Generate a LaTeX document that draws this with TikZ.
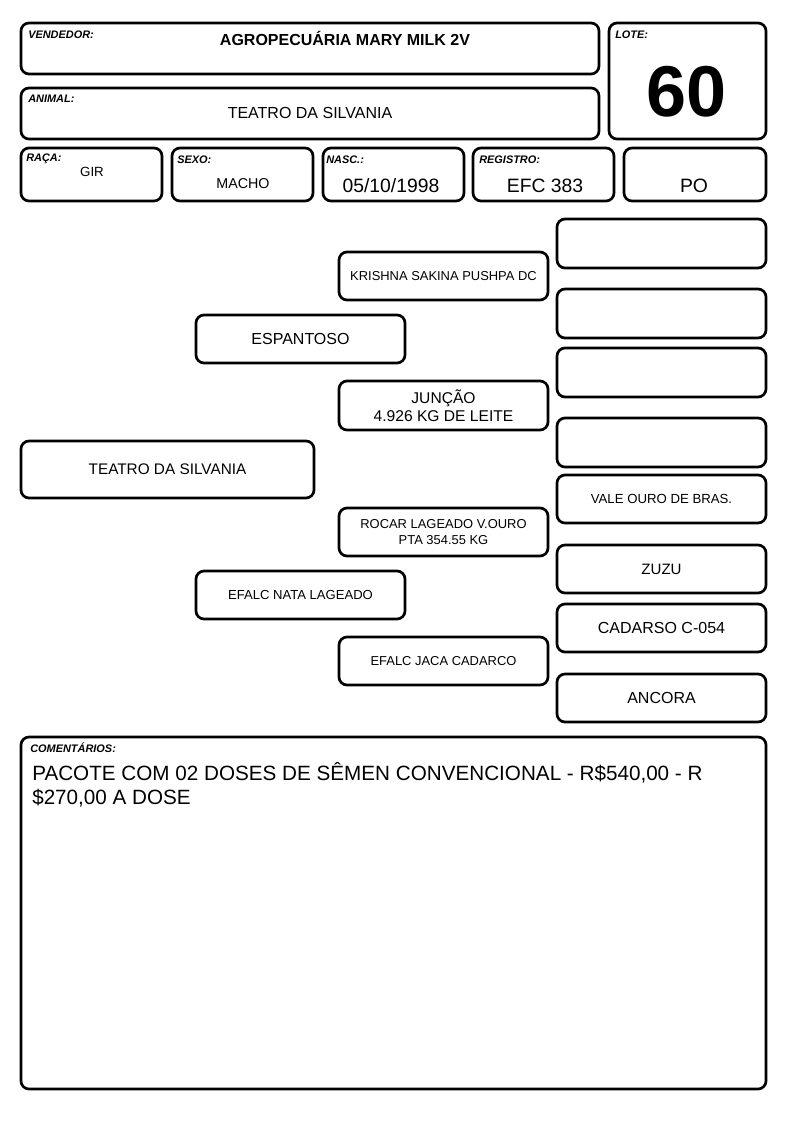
\documentclass[tikz,border=0pt]{standalone}
\usepackage{fontspec}
\setmainfont{Liberation Sans}
\usetikzlibrary{positioning}

\begin{document}
\begin{tikzpicture}[
      x=0.75pt, y=-0.75pt,
      cell/.style={draw, line width=2pt, rounded corners=6pt, inner sep=0pt, align=center},
      sz/.style 2 args={minimum width=#1*0.75pt, minimum height=#2*0.75pt},
      lbl/.style={font=\fontsize{8.2}{9}\selectfont\bfseries\itshape, anchor=west, inner sep=0pt},
      val/.style={inner sep=0pt, font=\fontsize{#1}{#1}\selectfont},
      val/.default=12,
    ]
    \useasboundingbox (0,0) rectangle (794,1123);

    % Header boxes
    \node[cell, sz={578}{51}] (vend) at (310,48.5) {};
    \node[cell, sz={578}{51}] (anim) at (310,113.5) {};
    \node[cell, sz={157}{116}] (lote) at (687.5,81) {};
    \node[cell, sz={141}{53}] (raca) at (91.5,174.5) {};
    \node[cell, sz={141}{53}] (sexo) at (242.5,174.5) {};
    \node[cell, sz={141}{53}] (nasc) at (393.5,174.5) {};
    \node[cell, sz={141}{53}] (reg) at (543.5,174.5) {};
    \node[cell, sz={142}{53}] (cat) at (695,174.5) {};

    % Header labels
    \node[lbl] (lvend) at (28,35) {VENDEDOR:};
    \node[lbl] (lanim) at (28,99) {ANIMAL:};
    \node[lbl] (llote) at (615,35) {LOTE:};
    \node[lbl] (lraca) at (26,159) {RAÇA:};
    \node[lbl] (lsexo) at (177,160) {SEXO:};
    \node[lbl] (lnasc) at (326,160) {NASC.:};
    \node[lbl] (lreg) at (479,160) {REGISTRO:};

    % Header values
    \node[val, font=\fontsize{12}{12}\selectfont\bfseries] (tvend) at (345,38) {AGROPECUÁRIA MARY MILK 2V};
    \node[val=12] (tanim) at (310,113) {TEATRO DA SILVANIA};
    \node[val, font=\fontsize{54}{54}\selectfont\bfseries] (tlote) at (687,92) {60};
    \node[val=10] (traca) at (92,172) {GIR};
    \node[val=10.7] (tsexo) at (243,184) {MACHO};
    \node[val=14.5] (tnasc) at (391,186) {05/10/1998};
    \node[val=14.5] (treg) at (545,186) {EFC 383};
    \node[val=14.5] (tcat) at (694,186) {PO};

    % Pedigree
    \node[cell, sz={293}{57}, font=\fontsize{11.5}{13}\selectfont] (an) at (167.5,469.5) {TEATRO DA SILVANIA};
    \node[cell, sz={209}{48}, font=\fontsize{12}{13}\selectfont] (p1) at (300.5,339) {ESPANTOSO};
    \node[cell, sz={209}{48}, font=\fontsize{9.8}{11}\selectfont] (p2) at (300.5,595) {EFALC NATA LAGEADO};
    \node[cell, sz={209}{48}, font=\fontsize{9.7}{11}\selectfont] (g1) at (443.5,276) {KRISHNA SAKINA PUSHPA DC};
    \node[cell, sz={209}{49}, font=\fontsize{11.7}{13.5}\selectfont] (g2) at (443.5,405.5) {JUNÇÃO\\4.926 KG DE LEITE};
    \node[cell, sz={209}{48}, font=\fontsize{9.7}{12}\selectfont] (g3) at (443.5,532) {ROCAR LAGEADO V.OURO\\PTA 354.55 KG};
    \node[cell, sz={209}{48}, font=\fontsize{9.7}{11}\selectfont] (g4) at (443.5,661) {EFALC JACA CADARCO};
    \node[cell, sz={209}{49}] (b1) at (661.5,243.5) {};
    \node[cell, sz={209}{49}] (b2) at (661.5,313.5) {};
    \node[cell, sz={209}{49}] (b3) at (661.5,372.5) {};
    \node[cell, sz={209}{49}] (b4) at (661.5,442.5) {};
    \node[cell, sz={209}{48}, font=\fontsize{9.9}{11}\selectfont] (b5) at (661.5,499) {VALE OURO DE BRAS.};
    \node[cell, sz={209}{48}, font=\fontsize{11.3}{13}\selectfont] (b6) at (661.5,569) {ZUZU};
    \node[cell, sz={209}{48}, font=\fontsize{12}{13}\selectfont] (b7) at (661.5,628) {CADARSO C-054};
    \node[cell, sz={209}{48}, font=\fontsize{12}{13}\selectfont] (b8) at (661.5,698) {ANCORA};

    % Comments
    \node[cell, sz={745}{352}] (com) at (393.5,913) {};
    \node[lbl] (lcom) at (30,748) {COMENTÁRIOS:};
    \node[inner sep=0pt, anchor=north west, align=left, font=\fontsize{15.5}{18}\selectfont] (tcom) at (32,762)
      {PACOTE COM 02 DOSES DE SÊMEN CONVENCIONAL - R\$540,00 - R\\\$270,00 A DOSE};
  \end{tikzpicture}
\end{document}
